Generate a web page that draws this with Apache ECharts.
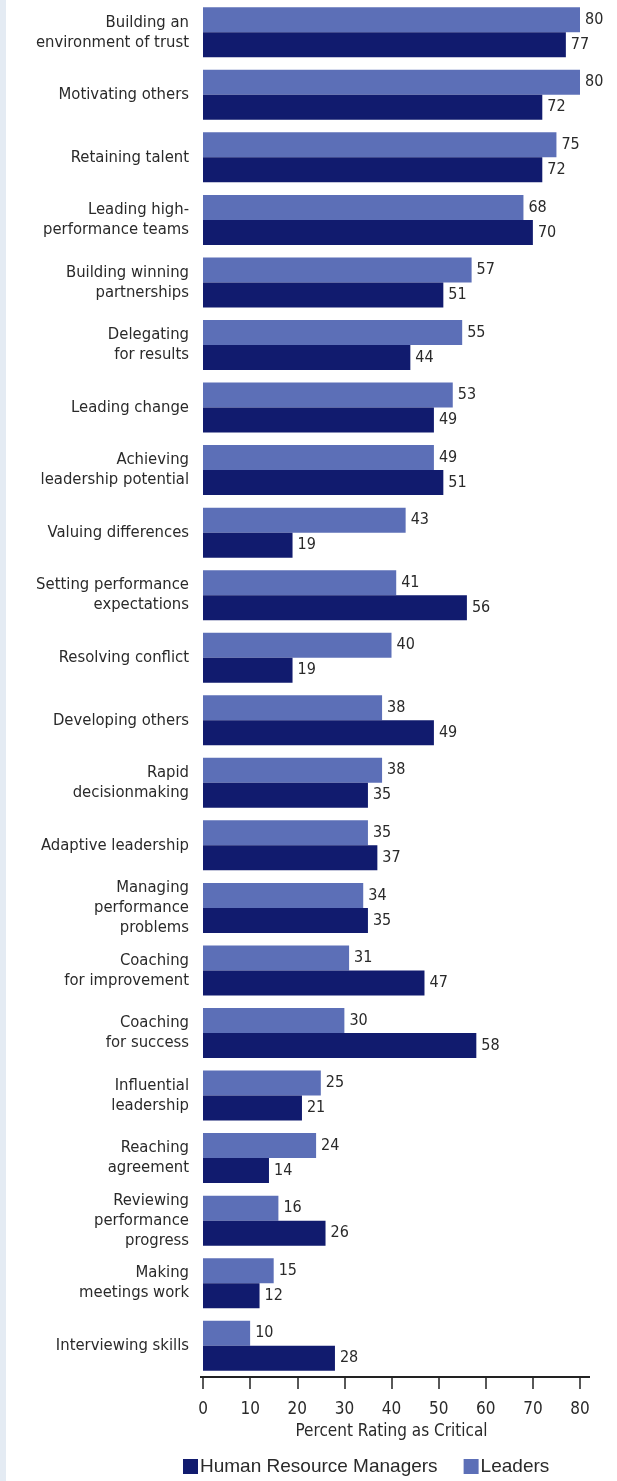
<!DOCTYPE html>
<html>
<head>
<meta charset="utf-8">
<script src="https://cdn.jsdelivr.net/npm/echarts@6/dist/echarts.min.js"></script>
<style>
  html, body { margin: 0; padding: 0; background: #ffffff; }
  #chart { width: 617px; height: 1481px; }
</style>
</head>
<body>
<div id="chart"></div>
<script>
// Leadership skills rated as critical
const categories = [
  'Building an\nenvironment of trust', 'Motivating others', 'Retaining talent',
  'Leading high-\nperformance teams', 'Building winning\npartnerships', 'Delegating\nfor results',
  'Leading change', 'Achieving\nleadership potential', 'Valuing differences',
  'Setting performance\nexpectations', 'Resolving conflict', 'Developing others',
  'Rapid\ndecisionmaking', 'Adaptive leadership', 'Managing\nperformance\nproblems',
  'Coaching\nfor improvement', 'Coaching\nfor success', 'Influential\nleadership',
  'Reaching\nagreement', 'Reviewing\nperformance\nprogress', 'Making\nmeetings work',
  'Interviewing skills'
];
const leaders = [80, 80, 75, 68, 57, 55, 53, 49, 43, 41, 40, 38, 38, 35, 34, 31, 30, 25, 24, 16, 15, 10];
const hrManagers = [77, 72, 72, 70, 51, 44, 49, 51, 19, 56, 19, 49, 35, 37, 35, 47, 58, 21, 14, 26, 12, 28];
const xTicks = [0, 10, 20, 30, 40, 50, 60, 70, 80];

const NARROW = '"DejaVu Sans Condensed", "Liberation Sans Narrow", "Liberation Sans", sans-serif';
const WIDE = '"Liberation Sans", Arial, sans-serif';
const TEXT = '#2a2a2a';
const LIGHT = '#5c6fb7';
const DARK = '#111b6e';

const chart = echarts.init(document.getElementById('chart'));

const valueLabel = {
  show: true,
  position: 'right',
  distance: 5,
  fontFamily: NARROW,
  fontSize: 16,
  color: TEXT
};

chart.setOption({
  animation: false,
  backgroundColor: '#ffffff',
  grid: { left: 203, right: 37, top: 1, bottom: 104 },
  xAxis: {
    type: 'value',
    min: xTicks[0],
    max: xTicks[xTicks.length - 1],
    interval: 10,
    name: 'Percent Rating as Critical',
    nameLocation: 'middle',
    nameGap: 46,
    nameTextStyle: { fontFamily: NARROW, fontSize: 17, color: TEXT },
    axisLine: { show: false },
    axisTick: { show: true, length: 12, lineStyle: { color: '#222', width: 1.5 } },
    axisLabel: { margin: 24, fontFamily: NARROW, fontSize: 17, color: TEXT },
    splitLine: { show: false }
  },
  yAxis: {
    type: 'category',
    data: categories,
    inverse: true,
    axisLine: { show: false },
    axisTick: { show: false },
    axisLabel: {
      margin: 14,
      fontFamily: NARROW,
      fontSize: 16.5,
      lineHeight: 20,
      color: TEXT,
      align: 'right'
    }
  },
  legend: {
    left: 178,
    top: 1452,
    itemWidth: 15,
    itemHeight: 15,
    itemGap: 26,
    icon: 'rect',
    data: ['Human Resource Managers', 'Leaders'],
    textStyle: { fontFamily: WIDE, fontSize: 19, color: TEXT, padding: [0, 0, 0, -3] }
  },
  series: [
    {
      name: 'Leaders',
      type: 'bar',
      data: leaders,
      barWidth: 25,
      barGap: '0%',
      itemStyle: { color: LIGHT },
      label: valueLabel
    },
    {
      name: 'Human Resource Managers',
      type: 'bar',
      data: hrManagers,
      barWidth: 25,
      barGap: '0%',
      itemStyle: { color: DARK },
      label: valueLabel
    }
  ],
  graphic: [
    {
      type: 'rect',
      shape: { x: 0, y: 0, width: 6, height: 1481 },
      style: { fill: '#e4ebf3' },
      silent: true
    },
    {
      type: 'line',
      shape: { x1: 200, y1: 1377, x2: 590, y2: 1377 },
      style: { stroke: '#222', lineWidth: 2 },
      silent: true
    }
  ]
});
</script>
</body>
</html>
